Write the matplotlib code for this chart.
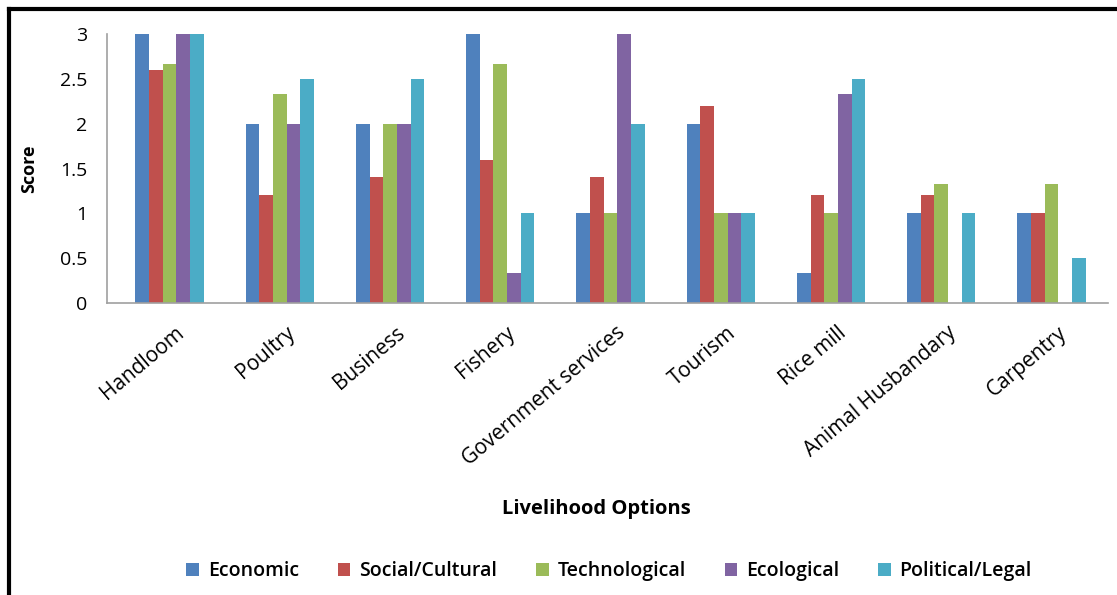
import matplotlib.pyplot as plt
import numpy as np

categories = ["Handloom", "Poultry", "Business", "Fishery", "Government services",
              "Tourism", "Rice mill", "Animal Husbandary", "Carpentry"]
series_names = ["Economic", "Social/Cultural", "Technological", "Ecological", "Political/Legal"]
economic = [3, 2, 2, 3, 1, 2, 0.33, 1, 1]
social = [2.6, 1.2, 1.4, 1.6, 1.4, 2.2, 1.2, 1.2, 1]
technological = [2.67, 2.33, 2, 2.67, 1, 1, 1, 1.33, 1.33]
ecological = [3, 2, 2, 0.33, 3, 1, 2.33, 0, 0]
political = [3, 2.5, 2.5, 1, 2, 1, 2.5, 1, 0.5]
yticks = [0, 0.5, 1, 1.5, 2, 2.5, 3]
ytick_labels = ["0", "0.5", "1", "1.5", "2", "2.5", "3"]

colors = ["#4F81BD", "#C0504D", "#9BBB59", "#8064A2", "#4BACC6"]
plt.rcParams["font.family"] = ["Open Sans", "DejaVu Sans"]

fig = plt.figure(figsize=(11.17, 5.95), dpi=100)
ax = fig.add_axes([107 / 1117, 1 - 303 / 595, (1108 - 107) / 1117, (303 - 34) / 595])

x = np.arange(len(categories))
w = 0.124
all_series = [economic, social, technological, ecological, political]
for i, (vals, name) in enumerate(zip(all_series, series_names)):
    ax.bar(x + (i - 2) * w, vals, width=w, color=colors[i], label=name, zorder=2)

ax.set_xlim(-0.567, 8.512)
ax.set_ylim(0, 3)
ax.set_yticks(yticks)
ax.set_yticklabels(ytick_labels, fontsize=14)
ax.set_xticks(x + 0.05)
ax.set_xticklabels(categories, rotation=40, ha="right", rotation_mode="anchor", fontsize=15)
ax.tick_params(axis="x", length=0, pad=14)
ax.tick_params(axis="y", length=0, pad=14)
for s in ["top", "right"]:
    ax.spines[s].set_visible(False)
ax.spines["left"].set_color("#A0A0A0")
ax.spines["bottom"].set_color("#A0A0A0")
ax.spines["left"].set_linewidth(1.2)
ax.spines["bottom"].set_linewidth(1.2)
ax.set_ylabel("Score", fontsize=13, fontweight="bold", labelpad=16)

fig.text(596 / 1117, 1 - 509 / 595, "Livelihood Options", fontsize=14.5, fontweight="bold",
         ha="center", va="center")

fig.legend(loc="center", bbox_to_anchor=(609 / 1117, 1 - 571 / 595), ncol=5, frameon=False,
           prop={"size": 14, "weight": "semibold"}, handlelength=0.65, handleheight=0.65,
           handletextpad=0.45, columnspacing=2.0)

# outer border (top and left)
fig.add_artist(plt.Line2D([9 / 1117, 1], [1 - 9 / 595, 1 - 9 / 595], color="black", lw=3,
                          transform=fig.transFigure))
fig.add_artist(plt.Line2D([9 / 1117, 9 / 1117], [0, 1 - 9 / 595], color="black", lw=3,
                          transform=fig.transFigure))

fig.savefig("out.png", dpi=100)
